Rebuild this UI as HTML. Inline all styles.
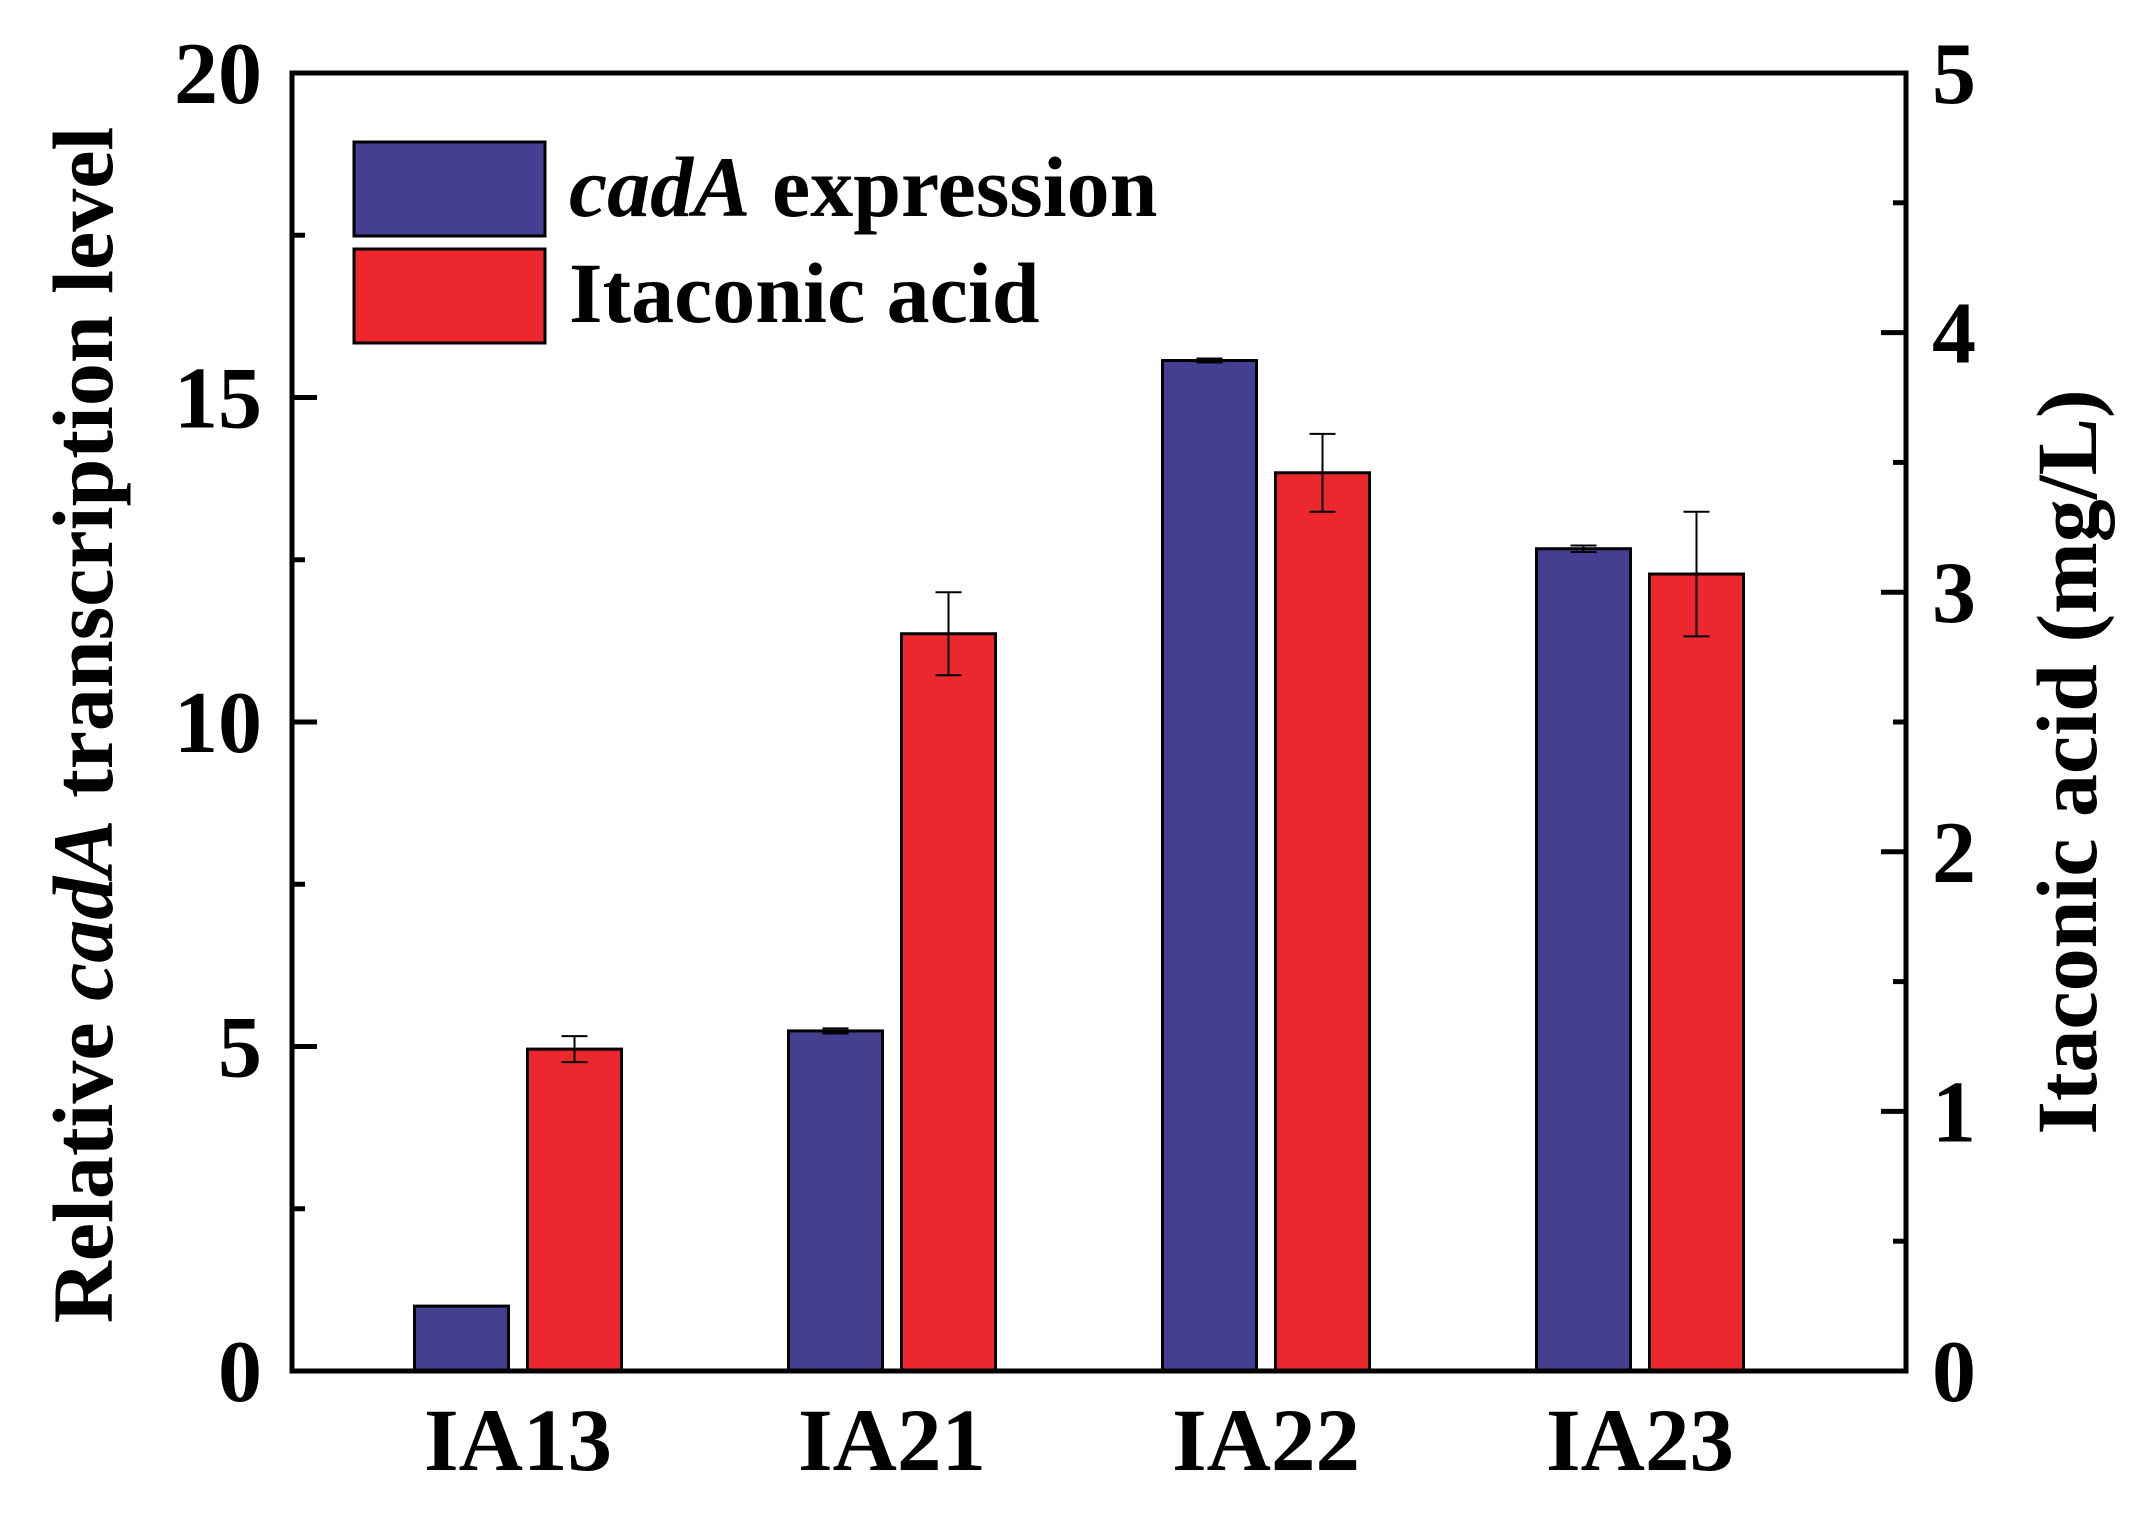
<!DOCTYPE html>
<html><head><meta charset="utf-8"><style>
html,body{margin:0;padding:0;background:#fff;}
svg{display:block;font-family:"Liberation Serif",serif;font-weight:bold;}
</style></head><body>
<svg id="chart" width="2154" height="1513" viewBox="0 0 2154 1513" xmlns="http://www.w3.org/2000/svg">
<g id="bars"></g>
<g id="axes"></g>
<g>
 <rect x="354" y="142" width="191" height="94" fill="#453f91" stroke="#000" stroke-width="3"/>
 <text x="569" y="216" font-size="86"><tspan font-style="italic">cadA</tspan> expression</text>
 <rect x="354" y="249" width="191" height="94" fill="#ec282e" stroke="#000" stroke-width="3"/>
 <text x="569" y="322" font-size="86">Itaconic acid</text>
</g>
<text transform="translate(112,725) rotate(-90)" text-anchor="middle" font-size="86">Relative <tspan font-style="italic">cadA</tspan> transcription level</text>
<text transform="translate(2096,762) rotate(-90)" text-anchor="middle" font-size="86">Itaconic acid (mg/L)</text>
</svg>
<script>
const categories = ["IA13","IA21","IA22","IA23"];
const cadaValues = [1.0, 5.24, 15.57, 12.67];
const cadaErrors = [0.0, 0.04, 0.03, 0.05];
const acidValues = [1.24, 2.84, 3.46, 3.07];
const acidErrors = [0.05, 0.16, 0.15, 0.24];
const leftTicks = [0,5,10,15,20];
const rightTicks = [0,1,2,3,4,5];

const L=292, R=1906, T=73, B=1371;
const yL = v => B - (v/20)*(B-T);
const yR = v => B - (v/5)*(B-T);
const xC = i => 518 + i*374;
const NS="http://www.w3.org/2000/svg";
function mk(tag, attrs, parent){const e=document.createElementNS(NS,tag);for(const k in attrs)e.setAttribute(k,attrs[k]);parent.appendChild(e);return e;}
const bars=document.getElementById('bars'), axes=document.getElementById('axes');
const BW=94, OFF=56.5;
function errBar(x, yTop, yBot, name){
  const g=mk('g',{},bars);
  
  
  mk('line',{x1:x,x2:x,y1:yTop,y2:yBot,stroke:'#000','stroke-width':2},g);
  mk('line',{x1:x-13,x2:x+13,y1:yTop,y2:yTop,stroke:'#000','stroke-width':2},g);
  mk('line',{x1:x-13,x2:x+13,y1:yBot,y2:yBot,stroke:'#000','stroke-width':2},g);
}
categories.forEach((c,i)=>{
  const cx=xC(i);
  const b=mk('rect',{x:cx-OFF-BW/2,y:yL(cadaValues[i]),width:BW,height:B-yL(cadaValues[i]),fill:'#453f91',stroke:'#000','stroke-width':3},bars);
  
  
  if(cadaErrors[i]>0) errBar(cx-OFF, yL(cadaValues[i]+cadaErrors[i]), yL(cadaValues[i]-cadaErrors[i]), 'error-bar-cada-'+c.toLowerCase());
  const r=mk('rect',{x:cx+OFF-BW/2,y:yR(acidValues[i]),width:BW,height:B-yR(acidValues[i]),fill:'#ec282e',stroke:'#000','stroke-width':3},bars);
  
  
  errBar(cx+OFF, yR(acidValues[i]+acidErrors[i]), yR(acidValues[i]-acidErrors[i]), 'error-bar-itaconic-'+c.toLowerCase());
  const t=mk('text',{x:cx,y:1470,'text-anchor':'middle','font-size':89},axes);
  t.textContent=c;
  
  
});
const f=mk('rect',{x:L,y:T,width:R-L,height:B-T,fill:'none',stroke:'#000','stroke-width':5},axes);


for(let v=0; v<=20; v+=2.5){
  const major = v%5===0;
  mk('line',{x1:L,x2:L+(major?25:13),y1:yL(v),y2:yL(v),stroke:'#000','stroke-width':5},axes);
}
leftTicks.forEach(v=>{
  const t=mk('text',{x:262,y:yL(v)+30,'text-anchor':'end','font-size':88},axes);
  t.textContent=v;
  
  
});
for(let v=0; v<=5.001; v+=0.5){
  const major = Math.abs(v-Math.round(v))<1e-6;
  mk('line',{x1:R,x2:R-(major?25:13),y1:yR(v),y2:yR(v),stroke:'#000','stroke-width':5},axes);
}
rightTicks.forEach(v=>{
  const t=mk('text',{x:1932,y:yR(v)+30,'font-size':88},axes);
  t.textContent=v;
  
  
});
</script>
</body></html>
